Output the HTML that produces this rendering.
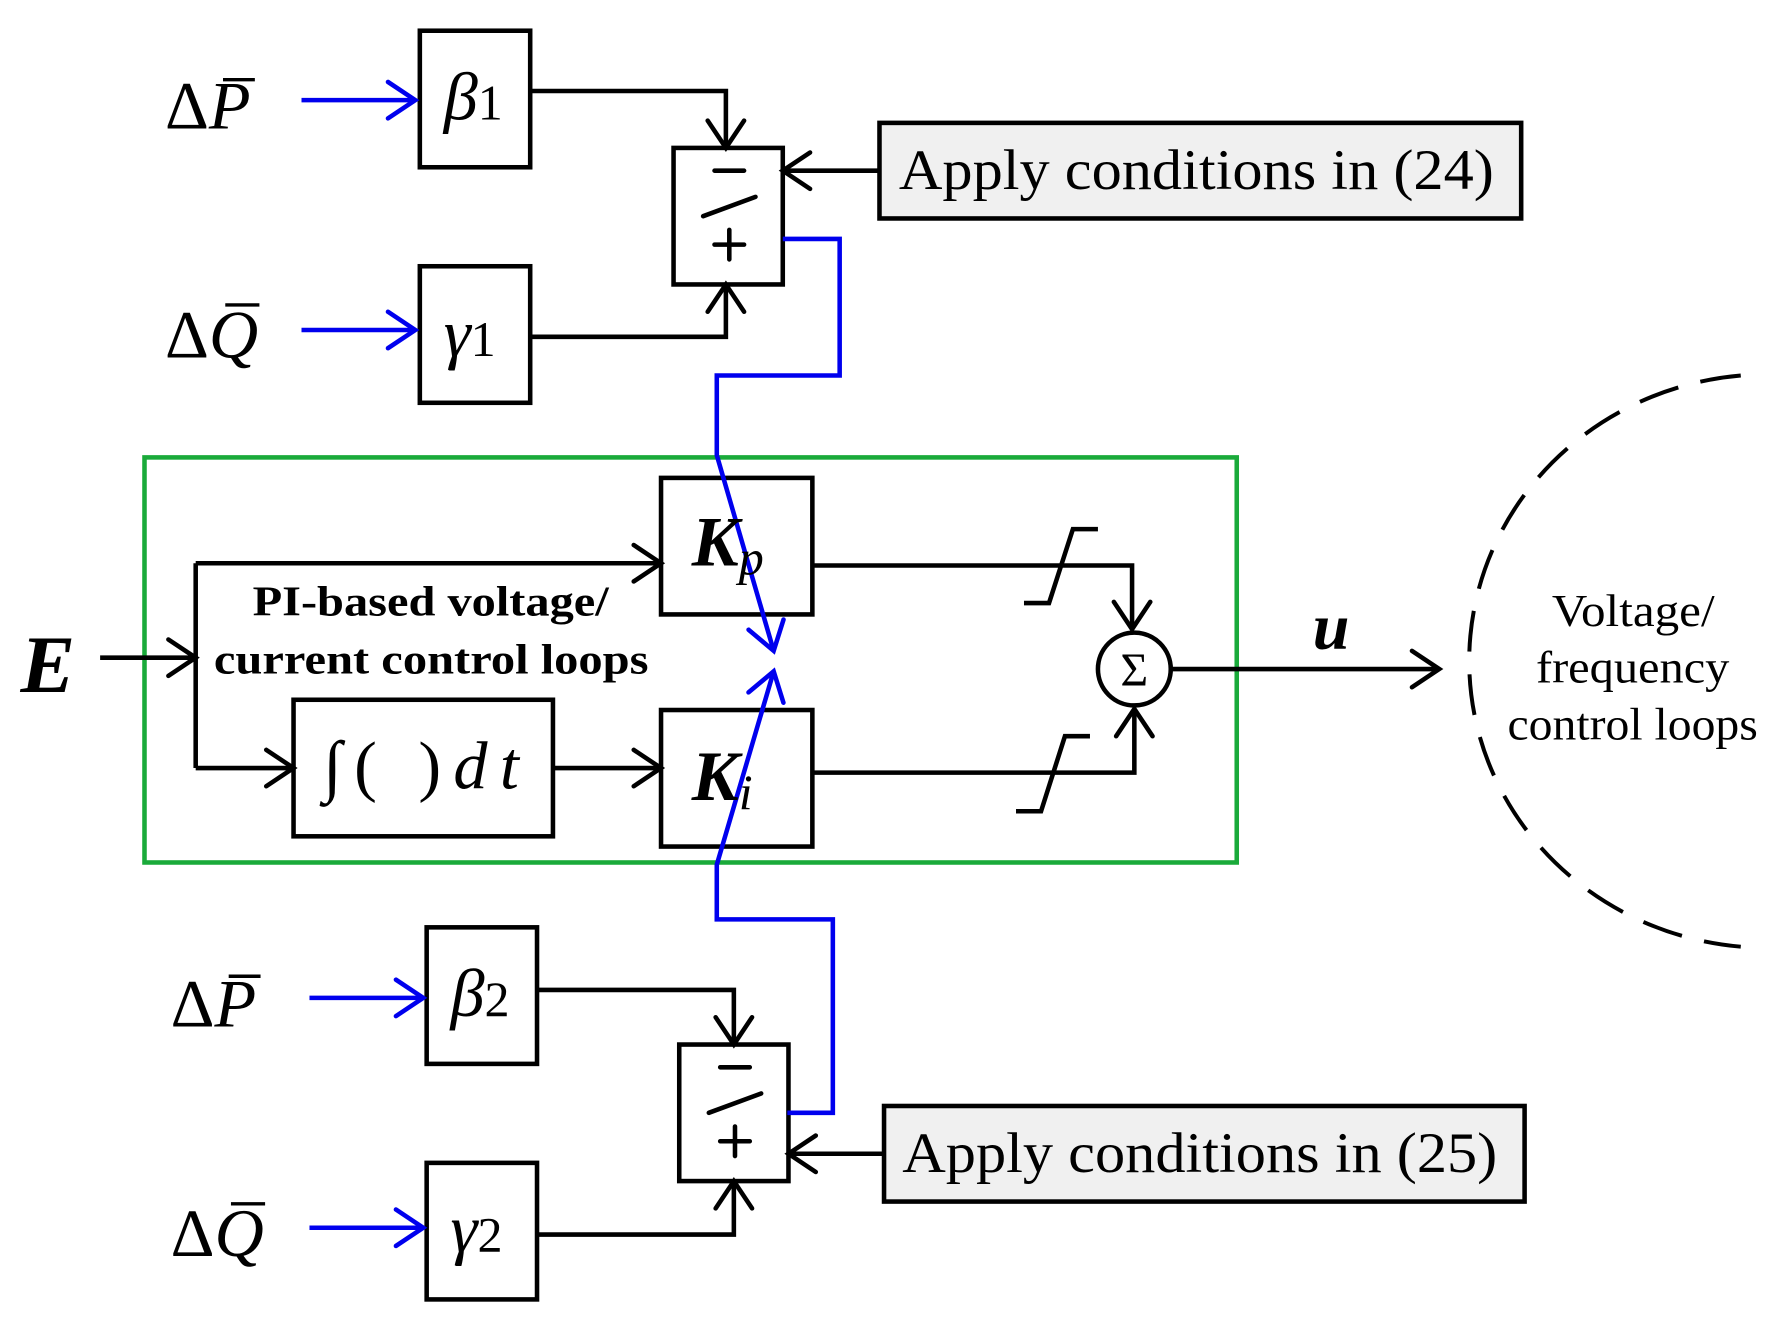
<!DOCTYPE html>
<html><head><meta charset="utf-8"><style>html,body{margin:0;padding:0;background:#fff}svg{display:block}</style></head>
<body>
<svg width="1784" height="1329" viewBox="0 0 1568 1168" preserveAspectRatio="none" xmlns="http://www.w3.org/2000/svg" font-family="Liberation Serif, serif">
<defs>
<marker id="a" markerUnits="userSpaceOnUse" markerWidth="40" markerHeight="40" refX="30" refY="20" orient="auto" viewBox="0 0 40 40"><path d="M6,4 L30,20 L6,36" fill="none" stroke="#000" stroke-width="4" stroke-linecap="round"/></marker>
<marker id="b" markerUnits="userSpaceOnUse" markerWidth="40" markerHeight="40" refX="30" refY="20" orient="auto" viewBox="0 0 40 40"><path d="M6,4 L30,20 L6,36" fill="none" stroke="#0000ee" stroke-width="4" stroke-linecap="round"/></marker>
</defs>
<g fill="none" stroke="#000" stroke-width="4">
<rect x="369" y="27" width="97" height="120"/>
<rect x="369" y="234" width="97" height="120"/>
<rect x="592" y="130" width="96" height="120"/>
<rect x="773" y="108" width="564" height="84" fill="#f0f0f0"/>
<path d="M466,80 H638 V130" marker-end="url(#a)"/>
<path d="M466,296 H638 V250" marker-end="url(#a)"/>
<path d="M773,150 H688" marker-end="url(#a)"/>
<rect x="375" y="815" width="97" height="120"/>
<rect x="375" y="1022" width="97" height="120"/>
<rect x="597" y="918" width="96" height="120"/>
<rect x="777" y="972" width="563" height="84" fill="#f0f0f0"/>
<path d="M472,870 H645 V918" marker-end="url(#a)"/>
<path d="M472,1085 H645 V1038" marker-end="url(#a)"/>
<path d="M777,1014 H693" marker-end="url(#a)"/>
<rect x="127" y="402" width="960" height="356" stroke="#1aaa3a"/>
<rect x="581" y="420" width="133" height="120"/>
<rect x="581" y="624" width="133" height="120"/>
<rect x="258" y="615" width="228" height="120"/>
<path d="M88,578 H172" marker-end="url(#a)"/>
<path d="M172,495 V675"/>
<path d="M172,495 H581" marker-end="url(#a)"/>
<path d="M172,675 H258" marker-end="url(#a)"/>
<path d="M486,675 H581" marker-end="url(#a)"/>
<path d="M714,497 H995 V553" marker-end="url(#a)"/>
<path d="M714,679 H997 V623" marker-end="url(#a)"/>
<path d="M900,530 H922 L943,465 H965"/>
<path d="M893,713 H915 L936,647 H958"/>
<circle cx="997" cy="588" r="32" fill="#fff"/>
<path d="M1029,588 H1265" marker-end="url(#a)"/>
<path d="M1530,330 A262,252 0 0,0 1530,832" stroke-width="3.5" stroke-dasharray="36,20"/>
</g>
<g fill="none" stroke="#000" stroke-width="4" stroke-linecap="round">
<path d="M628,150 H654 M618,190 L664,173 M628,215 H654 M641,202 V228"/>
<path d="M633,938 H659 M623,978 L669,961 M633,1003 H659 M646,990 V1016"/>
</g>
<g fill="none" stroke="#0000ee" stroke-width="4">
<path d="M265,88 H365" marker-end="url(#b)"/>
<path d="M265,290 H365" marker-end="url(#b)"/>
<path d="M272,877 H372" marker-end="url(#b)"/>
<path d="M272,1079 H372" marker-end="url(#b)"/>
<path d="M688,210 H738 V330 H630 V400 L680,572" marker-end="url(#b)"/>
<path d="M692,978 H732 V808 H630 V760 L680,590" marker-end="url(#b)"/>
</g>
<g fill="#000">
<text x="145" y="113" font-size="60">Δ<tspan font-style="italic">P</tspan></text>
<path d="M196,70 H224" stroke="#000" stroke-width="3"/>
<text x="145" y="314" font-size="60">Δ<tspan font-style="italic">Q</tspan></text>
<path d="M198,268 H228" stroke="#000" stroke-width="3"/>
<text x="150" y="902" font-size="60">Δ<tspan font-style="italic">P</tspan></text>
<path d="M201,858 H229" stroke="#000" stroke-width="3"/>
<text x="150" y="1104" font-size="60">Δ<tspan font-style="italic">Q</tspan></text>
<path d="M203,1058 H233" stroke="#000" stroke-width="3"/>
<text x="390" y="105" font-size="60" font-style="italic">β<tspan font-style="normal" font-size="44">1</tspan></text>
<text x="390" y="313" font-size="60" font-style="italic">γ<tspan font-style="normal" font-size="44">1</tspan></text>
<text x="396" y="893" font-size="60" font-style="italic">β<tspan font-style="normal" font-size="44">2</tspan></text>
<text x="396" y="1100" font-size="60" font-style="italic">γ<tspan font-style="normal" font-size="44">2</tspan></text>
<text x="790" y="166" font-size="50" textLength="523" lengthAdjust="spacingAndGlyphs">Apply conditions in (24)</text>
<text x="793" y="1030" font-size="50" textLength="523" lengthAdjust="spacingAndGlyphs">Apply conditions in (25)</text>
<text x="18" y="608" font-size="72" font-weight="bold" font-style="italic">E</text>
<text x="608" y="497" font-size="62" font-weight="bold" font-style="italic">K<tspan font-size="44" font-weight="normal" dy="8">p</tspan></text>
<text x="608" y="703" font-size="62" font-weight="bold" font-style="italic">K<tspan font-size="44" font-weight="normal" dy="8">i</tspan></text>
<text x="284" y="693" font-size="60" font-style="italic" textLength="172" lengthAdjust="spacing">∫<tspan font-style="normal">( )</tspan>dt</text>
<text x="222" y="541" font-size="37" font-weight="bold" textLength="313" lengthAdjust="spacingAndGlyphs">PI-based voltage/</text>
<text x="188" y="592" font-size="37" font-weight="bold" textLength="382" lengthAdjust="spacingAndGlyphs">current control loops</text>
<text x="997" y="603" font-size="42" text-anchor="middle">Σ</text>
<text x="1170" y="570" font-size="58" font-weight="bold" font-style="italic" text-anchor="middle">u</text>
<text x="1364" y="550" font-size="40" textLength="143" lengthAdjust="spacingAndGlyphs">Voltage/</text>
<text x="1350" y="600" font-size="40" textLength="170" lengthAdjust="spacingAndGlyphs">frequency</text>
<text x="1325" y="650" font-size="40" textLength="220" lengthAdjust="spacingAndGlyphs">control loops</text>
</g>
</svg>
</body></html>
